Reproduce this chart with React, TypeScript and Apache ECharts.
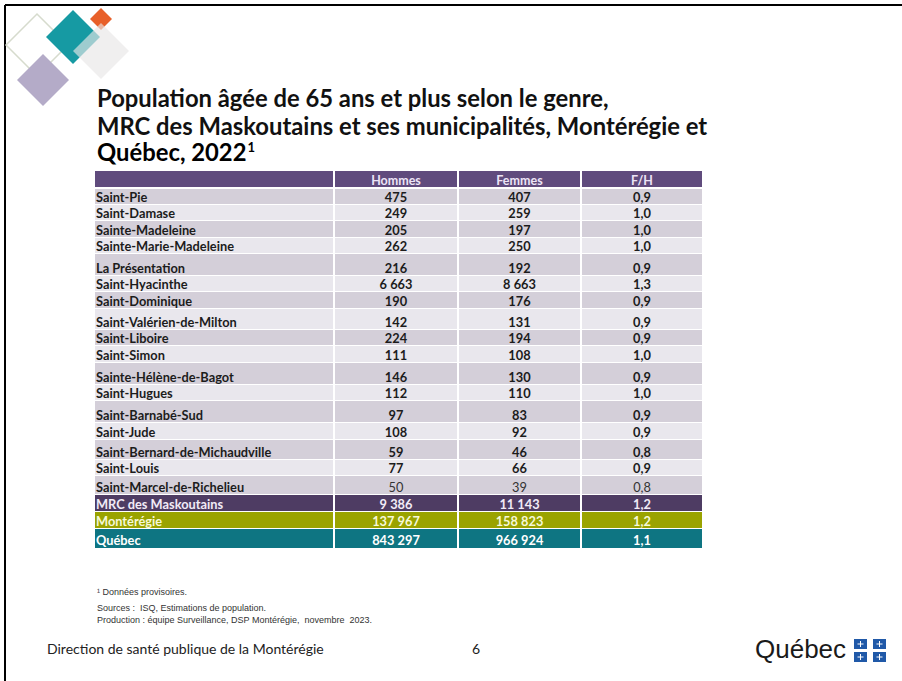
import React, { useEffect, useRef } from "react";
import * as echarts from "echarts";

// ---- data ----
const columnHeaders = ["", "Hommes", "Femmes", "F/H"];
const municipalities = [
  "Saint-Pie",
  "Saint-Damase",
  "Sainte-Madeleine",
  "Sainte-Marie-Madeleine",
  "La Présentation",
  "Saint-Hyacinthe",
  "Saint-Dominique",
  "Saint-Valérien-de-Milton",
  "Saint-Liboire",
  "Saint-Simon",
  "Sainte-Hélène-de-Bagot",
  "Saint-Hugues",
  "Saint-Barnabé-Sud",
  "Saint-Jude",
  "Saint-Bernard-de-Michaudville",
  "Saint-Louis",
  "Saint-Marcel-de-Richelieu",
];
const hommes = [475, 249, 205, 262, 216, 6663, 190, 142, 224, 111, 146, 112, 97, 108, 59, 77, 50];
const femmes = [407, 259, 197, 250, 192, 8663, 176, 131, 194, 108, 130, 110, 83, 92, 46, 66, 39];
const ratios = [0.9, 1.0, 1.0, 1.0, 0.9, 1.3, 0.9, 0.9, 0.9, 1.0, 0.9, 1.0, 0.9, 0.9, 0.8, 0.9, 0.8];
const regions = ["MRC des Maskoutains", "Montérégie", "Québec"];
const regionHommes = [9386, 137967, 843297];
const regionFemmes = [11143, 158823, 966924];
const regionRatios = [1.2, 1.2, 1.1];

// ---- layout (not data) ----
const rowHeights = [18, 16, 16, 17, 16, 22, 16, 17, 21, 16, 17, 22, 16, 22, 17, 20, 16, 19, 17, 17, 20];
const colStarts = [0, 240, 364, 487];
const colEnds = [238, 362, 485, 607];
const tableWidth = 607;

const fmtInt = (n: number) => String(n).replace(/\B(?=(\d{3})+(?!\d))/g, " ");
const fmtRatio = (n: number) => n.toFixed(1).replace(".", ",");

const rowTops: number[] = [];
{
  let acc = 0;
  for (const h of rowHeights) {
    rowTops.push(acc);
    acc += h;
  }
}
const tableHeight = rowHeights.reduce((a, b) => a + b, 0);

function rowCells(i: number): string[] {
  if (i === 0) return columnHeaders;
  const m = i - 1;
  if (m < municipalities.length) {
    return [municipalities[m], fmtInt(hommes[m]), fmtInt(femmes[m]), fmtRatio(ratios[m])];
  }
  const r = m - municipalities.length;
  return [regions[r], fmtInt(regionHommes[r]), fmtInt(regionFemmes[r]), fmtRatio(regionRatios[r])];
}

const FONT = "Lato, 'Open Sans', sans-serif";
const regionFill = ["#4e3c63", "#9aa300", "#0e7582"];
const regionText = ["#f1ebf7", "#f6f8d8", "#ffffff"];

function rowStyle(i: number) {
  if (i === 0) return { fill: "#604b7d", color: "#ece4f6", gap: 2, weight: "bold" };
  const m = i - 1;
  if (m < municipalities.length) {
    const light = m % 2 === 1;
    return {
      fill: light ? "#e9e7ed" : "#d4cfd9",
      color: "#1c1c1c",
      gap: 1,
      weight: "bold",
    };
  }
  const r = m - municipalities.length;
  return { fill: regionFill[r], color: regionText[r], gap: 1, weight: "bold" };
}

function diamond(cx: number, cy: number, r: number) {
  return [
    [cx, cy - r],
    [cx + r, cy],
    [cx, cy + r],
    [cx - r, cy],
  ];
}

export default function App() {
  const ref = useRef<HTMLDivElement>(null);
  useEffect(() => {
    if (!ref.current) return;
    const chart = echarts.init(ref.current, undefined, { renderer: "svg" });
    const data = rowHeights.map((_, i) => [0, rowTops[i], i]);
    const option: any = {
      animation: false,
      backgroundColor: "#ffffff",
      grid: { left: 95, top: 171, width: tableWidth, height: tableHeight },
      xAxis: { type: "value", min: 0, max: tableWidth, show: false },
      yAxis: { type: "value", min: 0, max: tableHeight, inverse: true, show: false },
      series: [
        {
          type: "custom",
          clip: false,
          data,
          encode: { x: 0, y: 1 },
          renderItem: (params: any, api: any) => {
            const i = api.value(2);
            const top = api.value(1);
            const h = rowHeights[i];
            const st = rowStyle(i);
            const cells = rowCells(i);
            const isMarcel = i === municipalities.length;
            const children: any[] = [];
            for (let c = 0; c < 4; c++) {
              const p1 = api.coord([colStarts[c], top]);
              const p2 = api.coord([colEnds[c], top + h - st.gap]);
              children.push({
                type: "rect",
                shape: { x: p1[0], y: p1[1], width: p2[0] - p1[0], height: p2[1] - p1[1] },
                style: { fill: st.fill },
              });
              const pb = api.coord([colStarts[c], top + h]);
              const textY = i === 0 ? (p1[1] + p2[1]) / 2 + 1 : pb[1] - (i === rowHeights.length - 1 ? 9 : 8);
              children.push({
                type: "text",
                style: {
                  text: cells[c],
                  x: c === 0 ? p1[0] + 1 : (p1[0] + p2[0]) / 2,
                  y: textY,
                  align: c === 0 ? "left" : "center",
                  verticalAlign: "middle",
                  fill: isMarcel && c > 0 ? "#333333" : st.color,
                  fontFamily: FONT,
                  fontSize: i === 0 ? 12.5 : 12.8,
                  fontWeight: isMarcel && c > 0 ? "normal" : st.weight,
                },
              });
            }
            return { type: "group", children };
          },
        },
      ],
      graphic: [
        // frame
        { type: "line", shape: { x1: 5, y1: 5, x2: 902, y2: 5 }, style: { stroke: "#000", lineWidth: 2 } },
        { type: "line", shape: { x1: 5, y1: 5, x2: 5, y2: 681 }, style: { stroke: "#000", lineWidth: 2 } },
        // decorative diamonds
        { type: "polygon", shape: { points: diamond(37, 45, 31) }, style: { fill: "none", stroke: "#d6dbcd", lineWidth: 1.5 } },
        { type: "polygon", shape: { points: diamond(73, 37, 27) }, style: { fill: "#169aa3" } },
        { type: "polygon", shape: { points: diamond(101, 19, 11) }, style: { fill: "#e8602a" } },
        { type: "polygon", shape: { points: diamond(101, 51, 28) }, style: { fill: "#e8e6e6", opacity: 0.65 } },
        { type: "polygon", shape: { points: diamond(43, 80, 26) }, style: { fill: "#b4abc8" } },
        // title
        {
          type: "text",
          left: 97,
          top: 86,
          style: { text: "Population âgée de 65 ans et plus selon le genre,", fontFamily: FONT, fontSize: 23.8, fontWeight: "bold", fill: "#111" },
        },
        {
          type: "text",
          left: 97,
          top: 114,
          style: { text: "MRC des Maskoutains et ses municipalités, Montérégie et", fontFamily: FONT, fontSize: 23.8, fontWeight: "bold", fill: "#111" },
        },
        {
          type: "text",
          left: 97,
          top: 140,
          style: {
            text: "{t|Québec, 2022}{s|1}",
            rich: {
              t: { fontFamily: FONT, fontSize: 23.8, fontWeight: "bold", color: "#111" },
              s: { fontFamily: FONT, fontSize: 13, fontWeight: "bold", color: "#111", verticalAlign: "top", padding: [0, 0, 11, 1] },
            },
          },
        },
        // footnotes
        { type: "text", left: 97, top: 587, style: { text: "¹ Données provisoires.", fontFamily: "'Liberation Sans', sans-serif", fontSize: 9, fill: "#333" } },
        { type: "text", left: 97, top: 603, style: { text: "Sources :  ISQ, Estimations de population.", fontFamily: "'Liberation Sans', sans-serif", fontSize: 9, fill: "#333" } },
        { type: "text", left: 97, top: 615, style: { text: "Production : équipe Surveillance, DSP Montérégie,  novembre  2023.", fontFamily: "'Liberation Sans', sans-serif", fontSize: 9, fill: "#333" } },
        // footer
        { type: "text", left: 47, top: 641, style: { text: "Direction de santé publique de la Montérégie", fontFamily: FONT, fontSize: 14, fill: "#222" } },
        { type: "text", left: 472, top: 641, style: { text: "6", fontFamily: FONT, fontSize: 14, fill: "#222" } },
        // Québec logo
        { type: "text", left: 755, top: 636, style: { text: "Québec", fontFamily: "'Liberation Sans', sans-serif", fontSize: 26, fill: "#1a1a1a" } },
        { type: "rect", shape: { x: 854, y: 639, width: 13, height: 10 }, style: { fill: "#2059a8" } },
        { type: "rect", shape: { x: 873, y: 639, width: 13, height: 10 }, style: { fill: "#2059a8" } },
        { type: "rect", shape: { x: 854, y: 652, width: 13, height: 10 }, style: { fill: "#2059a8" } },
        { type: "rect", shape: { x: 873, y: 652, width: 13, height: 10 }, style: { fill: "#2059a8" } },
        ...[
          [860.5, 644],
          [879.5, 644],
          [860.5, 657],
          [879.5, 657],
        ].flatMap(([cx, cy]) => [
          { type: "line", shape: { x1: cx, y1: cy - 3, x2: cx, y2: cy + 3 }, style: { stroke: "#fff", lineWidth: 1 } },
          { type: "line", shape: { x1: cx - 3, y1: cy, x2: cx + 3, y2: cy }, style: { stroke: "#fff", lineWidth: 1 } },
        ]),
      ],
    };
    chart.setOption(option);
    return () => chart.dispose();
  }, []);
  return <div ref={ref} style={{ position: "fixed", left: 0, top: 0, width: 902, height: 681 }} />;
}
